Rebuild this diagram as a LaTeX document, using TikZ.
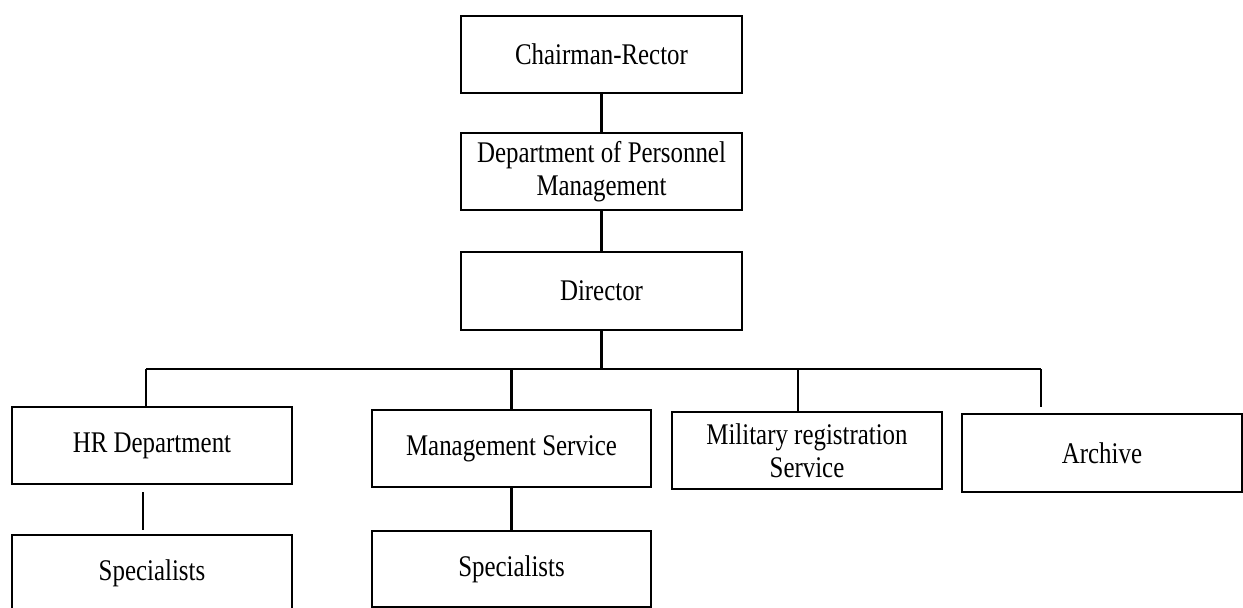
\documentclass[tikz,border=0pt]{standalone}
\usepackage{fontspec}
\setmainfont{Liberation Serif}[FakeStretch=0.83]

\tikzset{
	unit/.style={draw,line width=2.8pt,fill=white,inner sep=0,align=center,
		minimum width=280pt,minimum height=77pt,
		font=\fontsize{30}{33}\selectfont},
	link/.style={line width=2.2pt}
}

\begin{document}
\begin{tikzpicture}[x=1pt,y=-1pt]
\useasboundingbox (0,0) rectangle (1243,608);
% top of the chart
\node[unit,minimum width=281pt] (rector) at (601.5,54.5) {Chairman-Rector};
\node[unit,minimum width=281pt] (dpm) at (601.5,171.5) {Department of Personnel\\Management};
\node[unit,minimum width=281pt,minimum height=78pt] (director) at (601.5,291) {Director};
% services
\node[unit] (hr) at (152,445.5) {HR Department};
\node[unit,minimum width=279pt] (mgmt) at (511.5,448.5) {Management Service};
\node[unit,minimum width=270pt] (military) at (807,450.5) {Military registration\\Service};
\node[unit,minimum height=78pt] (archive) at (1102,453) {Archive};
% specialists
\node[unit] (spechr) at (152,573.5) {Specialists};
\node[unit,minimum width=279pt,minimum height=76pt] (specmg) at (511.5,569) {Specialists};

\coordinate (busL) at (146,369);
\coordinate (busR) at (1041,369);
\coordinate (milTap) at (798,369);
\coordinate (arcEnd) at (1041,407);
\coordinate (hrGapA) at (143,492);
\coordinate (hrGapB) at (143,530);

\draw[link] (rector)--(dpm);
\draw[link] (dpm)--(director);
\draw[link] (director.south)--(director.south|-busL);
\draw[link] (busL)--(busR);
\draw[link] (busL)--(busL|-hr.north);
\draw[link] (mgmt.north|-busL)--(mgmt.north);
\draw[link] (milTap)--(milTap|-military.north);
\draw[link] (busR)--(arcEnd);
\draw[link] (hrGapA)--(hrGapB);
\draw[link] (mgmt)--(specmg);
\end{tikzpicture}
\end{document}
